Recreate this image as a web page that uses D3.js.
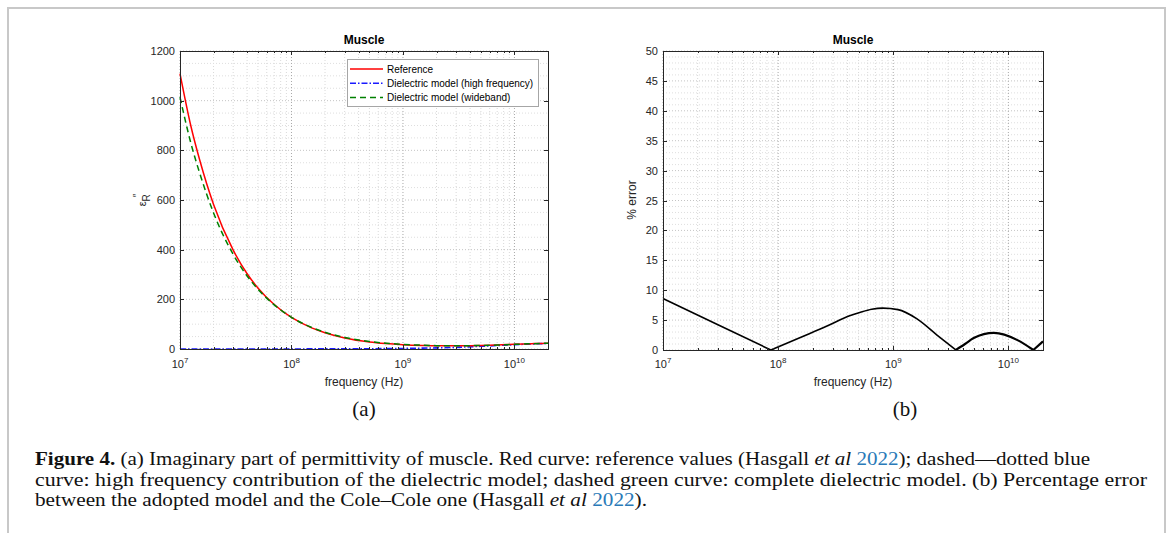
<!doctype html>
<html lang="en">
<head>
<meta charset="utf-8"/>
<title>Muscle permittivity</title>
<script src="https://d3js.org/d3.v7.min.js"></script>
<style>
  body { margin: 0; background: #fff; }
  svg text { font-family: "Liberation Sans", Arial, Helvetica, sans-serif; fill: #262626; }
  .cap { font-family: "Liberation Serif", "Times New Roman", serif; fill: #111; }
</style>
</head>
<body>
<svg id="fig" width="1168" height="533"></svg>
<script>
// --- data ---
const freq = [1e7, 1.25e7, 1.5e7, 2e7, 3e7, 4e7, 5e7, 7e7, 1e8, 1.5e8, 2e8, 3e8, 5e8, 7e8,
              1e9, 1.5e9, 2e9, 3e9, 5e9, 7e9, 1e10, 1.5e10, 2e10];
const reference = [1109, 899, 762, 582, 398, 303, 246, 179, 127, 86, 65.5, 44.6, 28.4, 22.1,
                   17.6, 14.4, 13.0, 12.8, 14.5, 16.4, 19.1, 21.7, 23.2];
const highFreq = [0.02, 0.03, 0.03, 0.05, 0.07, 0.09, 0.12, 0.16, 0.23, 0.34, 0.45, 0.68, 1.1, 1.6,
                  2.3, 3.4, 4.5, 6.7, 10.8, 14, 17.5, 20.5, 22.5];
const wideband = [1014, 830, 709, 548, 381, 294, 241, 177.5, 127.6, 87.7, 67.5, 46.6, 30.2, 23.6,
                  18.8, 15.2, 13.5, 12.9, 14.2, 15.9, 18.7, 21.6, 23.5];

// percentage error, split at the cusps where it touches zero
const errFreq = [1e7, 3e7, 8.65e7, 1.56e8, 2.66e8, 4.24e8, 5.2e8, 6.5e8, 8.1e8, 1.1e9, 1.61e9, 2.4e9,
                 3.5e9, 4.2e9, 5e9, 7.5e9, 1.2e10, 1.65e10, 2e10];
const errVals = [8.6, 4.22, 0, 2.1, 4.0, 5.75, 6.3, 6.8, 7.0, 6.75, 5.2, 2.5,
                 0, 1.0, 2.0, 2.85, 1.65, 0, 1.45];
const errSegments = [[0, 2], [2, 12], [12, 17], [17, 18]];

const yTicksA = [0, 200, 400, 600, 800, 1000, 1200];
const yTicksB = [0, 5, 10, 15, 20, 25, 30, 35, 40, 45, 50];
const xTicks = [1e7, 1e8, 1e9, 1e10];
const legendLabels = ["Reference", "Dielectric model (high frequency)", "Dielectric model (wideband)"];

const svg = d3.select("#fig");

// outer frame of the figure
svg.append("path")
  .attr("d", "M8,540 V8 H1165 V540")
  .attr("fill", "none").attr("stroke", "#c8c8c8").attr("stroke-width", 2);

function minorDecades(domain) {
  const out = [];
  for (let e = 7; e <= 10; e++) {
    for (let m = 2; m <= 9; m++) {
      const v = m * Math.pow(10, e);
      if (v > domain[0] && v < domain[1]) out.push(v);
    }
  }
  return out;
}

function panel(opts) {
  const x = d3.scaleLog().domain([1e7, 2e10]).range([opts.left, opts.right]);
  const y = d3.scaleLinear().domain(opts.yDomain).range([opts.bottom, opts.top]);
  const g = svg.append("g");
  const minors = minorDecades(x.domain());

  // grid: minor (light dotted), major (darker dotted)
  const grid = g.append("g");
  minors.forEach(v => grid.append("line")
    .attr("x1", x(v)).attr("x2", x(v)).attr("y1", opts.top).attr("y2", opts.bottom)
    .attr("stroke", "#d9d9d9").attr("stroke-width", 1).attr("stroke-dasharray", "1,2"));
  opts.yMinor.forEach(v => grid.append("line")
    .attr("x1", opts.left).attr("x2", opts.right).attr("y1", y(v)).attr("y2", y(v))
    .attr("stroke", "#dedede").attr("stroke-width", 1).attr("stroke-dasharray", "1,2"));
  xTicks.forEach(v => grid.append("line")
    .attr("x1", x(v)).attr("x2", x(v)).attr("y1", opts.top).attr("y2", opts.bottom)
    .attr("stroke", "#a8a8a8").attr("stroke-width", 1).attr("stroke-dasharray", "1,2"));
  opts.yTicks.forEach(v => grid.append("line")
    .attr("x1", opts.left).attr("x2", opts.right).attr("y1", y(v)).attr("y2", y(v))
    .attr("stroke", "#c4c4c4").attr("stroke-width", 1).attr("stroke-dasharray", "1,2"));

  // data
  opts.draw(g, x, y);

  // box + inward ticks
  const ax = g.append("g").attr("stroke", "#262626").attr("stroke-width", 1);
  ax.append("rect")
    .attr("x", opts.left + 0.5).attr("y", opts.top + 0.5)
    .attr("width", opts.right - opts.left).attr("height", opts.bottom - opts.top)
    .attr("fill", "none");
  xTicks.forEach(v => {
    const px = Math.round(x(v)) + 0.5;
    ax.append("line").attr("x1", px).attr("x2", px).attr("y1", opts.bottom).attr("y2", opts.bottom - 4);
    ax.append("line").attr("x1", px).attr("x2", px).attr("y1", opts.top).attr("y2", opts.top + 4);
  });
  minors.forEach(v => {
    const px = Math.round(x(v)) + 0.5;
    ax.append("line").attr("x1", px).attr("x2", px).attr("y1", opts.bottom).attr("y2", opts.bottom - 2);
    ax.append("line").attr("x1", px).attr("x2", px).attr("y1", opts.top).attr("y2", opts.top + 2);
  });
  opts.yTicks.forEach(v => {
    const py = Math.round(y(v)) + 0.5;
    ax.append("line").attr("x1", opts.left).attr("x2", opts.left + 4).attr("y1", py).attr("y2", py);
    ax.append("line").attr("x1", opts.right).attr("x2", opts.right - 4).attr("y1", py).attr("y2", py);
  });

  // tick labels
  opts.yTicks.forEach(v => g.append("text")
    .attr("x", opts.left - 5).attr("y", y(v) + 4)
    .attr("text-anchor", "end").attr("font-size", 11).text(v));
  xTicks.forEach(v => {
    const t = g.append("text").attr("x", x(v)).attr("y", 368)
      .attr("text-anchor", "middle").attr("font-size", 11);
    t.append("tspan").text("10");
    t.append("tspan").attr("font-size", 8).attr("dy", -5).text(Math.round(Math.log10(v)));
  });

  g.append("text").attr("x", (opts.left + opts.right) / 2).attr("y", 386)
    .attr("text-anchor", "middle").attr("font-size", 12).text("frequency (Hz)");
  g.append("text").attr("x", (opts.left + opts.right) / 2).attr("y", 44)
    .attr("text-anchor", "middle").attr("font-size", 12).attr("font-weight", "bold")
    .style("fill", "#000").text("Muscle");
  return { x, y, g };
}

// (a) imaginary permittivity
panel({
  left: 180, right: 548, top: 51, bottom: 349,
  yDomain: [0, 1200], yTicks: yTicksA, yMinor: d3.range(50, 1200, 50).filter(v => v % 200),
  draw: (g, x, y) => {
    const line = vals => d3.line().curve(d3.curveMonotoneX)
      .x((d, i) => x(freq[i])).y(d => y(d))(vals);
    g.append("path").attr("d", line(highFreq)).attr("fill", "none")
      .attr("stroke", "#1a1aff").attr("stroke-width", 1.6).attr("stroke-dasharray", "6,2,1.5,2");
    g.append("path").attr("d", line(reference)).attr("fill", "none")
      .attr("stroke", "#ff0000").attr("stroke-width", 1.5);
    g.append("path").attr("d", line(wideband)).attr("fill", "none")
      .attr("stroke", "#008000").attr("stroke-width", 1.5).attr("stroke-dasharray", "6,4");

    // legend
    const lg = g.append("g");
    lg.append("rect").attr("x", 347.5).attr("y", 59.5).attr("width", 191).attr("height", 47)
      .attr("fill", "#fff").attr("stroke", "#a6a6a6").attr("stroke-width", 1);
    const styles = [
      { c: "#ff0000", d: null },
      { c: "#1a1aff", d: "6,2,1.5,2" },
      { c: "#008000", d: "6,4" }
    ];
    legendLabels.forEach((lab, i) => {
      const yy = 69 + i * 14.3;
      lg.append("line").attr("x1", 350).attr("x2", 383).attr("y1", yy).attr("y2", yy)
        .attr("stroke", styles[i].c).attr("stroke-width", 1.5)
        .attr("stroke-dasharray", styles[i].d);
      lg.append("text").attr("x", 387).attr("y", yy + 3.5).attr("font-size", 10)
        .style("fill", "#000").text(lab);
    });
  }
});

// y label (a): epsilon_R''
const yl = svg.append("text").attr("transform", "translate(146,200) rotate(-90)")
  .attr("text-anchor", "middle").attr("font-size", 12);
yl.append("tspan").attr("font-size", 11).text("\u03B5");
yl.append("tspan").attr("font-size", 10).attr("dy", 4).text("R");
yl.append("tspan").attr("font-size", 10).attr("dy", -9).attr("dx", -3).text("\u2033");

// (b) percentage error
panel({
  left: 663, right: 1043, top: 51, bottom: 350,
  yDomain: [0, 50], yTicks: yTicksB, yMinor: d3.range(1, 50).filter(v => v % 5),
  draw: (g, x, y) => {
    const line = d3.line().curve(d3.curveMonotoneX)
      .x(i => x(errFreq[i])).y(i => y(errVals[i]));
    errSegments.forEach(([a, b], k) => {
      g.append("path").attr("d", line(d3.range(a, b + 1))).attr("fill", "none")
        .attr("stroke", "#000").attr("stroke-width", k >= 2 ? 2.2 : 1.6)
        .attr("stroke-linejoin", "round");
    });
  }
});
svg.append("text").attr("transform", "translate(636,200) rotate(-90)")
  .attr("text-anchor", "middle").attr("font-size", 12).text("% error");

// sub-figure labels
[["(a)", 364], ["(b)", 905]].forEach(([t, xx]) => svg.append("text").attr("class", "cap")
  .attr("x", xx).attr("y", 416).attr("text-anchor", "middle").attr("font-size", 21).text(t));

// caption
const capLines = [
  { y: 465, w: 1055, parts: [["Figure 4.", "b"], [" (a) Imaginary part of permittivity of muscle. Red curve: reference values (Hasgall ", ""],
    ["et al", "i"], [" ", ""], ["2022", "l"], ["); dashed\u2014dotted blue", ""]] },
  { y: 486, w: 1112, parts: [["curve: high frequency contribution of the dielectric model; dashed green curve: complete dielectric model. (b) Percentage error", ""]] },
  { y: 506, w: 612, parts: [["between the adopted model and the Cole\u2013Cole one (Hasgall ", ""], ["et al", "i"], [" ", ""], ["2022", "l"], [").", ""]] }
];
capLines.forEach(l => {
  const t = svg.append("text").attr("class", "cap").attr("x", 35).attr("y", l.y)
    .attr("font-size", 19).attr("textLength", l.w).attr("lengthAdjust", "spacingAndGlyphs");
  l.parts.forEach(([s, k]) => {
    const sp = t.append("tspan").text(s);
    if (k === "b") sp.attr("font-weight", "bold");
    if (k === "i") sp.attr("font-style", "italic");
    if (k === "l") sp.style("fill", "#2a7ab8");
  });
});
</script>
</body>
</html>
